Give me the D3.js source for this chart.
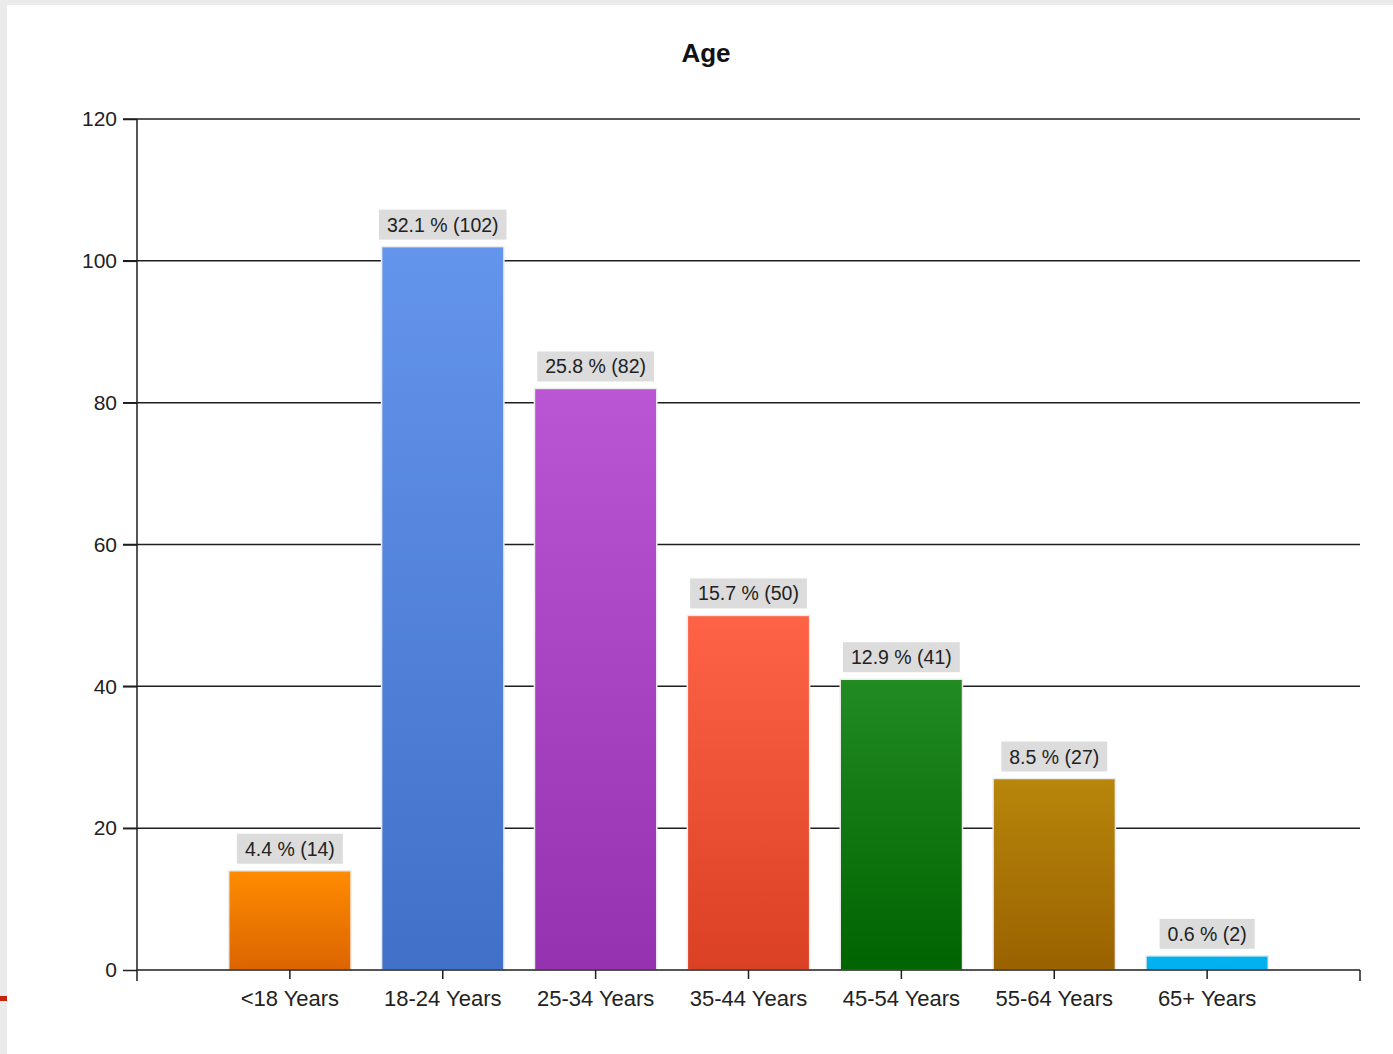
<!DOCTYPE html>
<html>
<head>
<meta charset="utf-8">
<script src="https://cdn.jsdelivr.net/npm/d3@7"></script>
<style>
  html, body { margin: 0; padding: 0; background: #ebebeb; }
  svg { display: block; }
  text { font-family: "Liberation Sans", Arial, sans-serif; }
</style>
</head>
<body>
<script>
const categories = ["<18 Years", "18-24 Years", "25-34 Years", "35-44 Years", "45-54 Years", "55-64 Years", "65+ Years"];
const counts = [14, 102, 82, 50, 41, 27, 2];
const percents = [4.4, 32.1, 25.8, 15.7, 12.9, 8.5, 0.6];
const topColors = ["#ff8c00", "#6495ed", "#ba55d3", "#ff6347", "#228b22", "#b8860b", "#00b4f0"];
const bottomColors = ["#dc6400", "#4070c8", "#9532b0", "#da4024", "#006400", "#9a6200", "#00b0ee"];
const yTicks = [0, 20, 40, 60, 80, 100, 120];
const title = "Age";

const W = 1393, H = 1054;
const svg = d3.select("body").append("svg").attr("width", W).attr("height", H);

// page background
svg.append("rect").attr("x", 0).attr("y", 0).attr("width", W).attr("height", H).attr("fill", "#ebebeb");
svg.append("rect").attr("x", 7).attr("y", 5).attr("width", W - 7).attr("height", H - 5).attr("fill", "#ffffff");
svg.append("rect").attr("x", 0).attr("y", 996).attr("width", 7).attr("height", 5).attr("fill", "#c8240f");

const x = d3.scaleLinear().domain([0, categories.length + 1]).range([137, 1360]);
const y = d3.scaleLinear().domain([0, 120]).range([970, 119]);
const bw = (x(1) - x(0)) * 0.8;

const defs = svg.append("defs");
categories.forEach((c, i) => {
  const g = defs.append("linearGradient").attr("id", "g" + i)
    .attr("x1", 0).attr("y1", 0).attr("x2", 0).attr("y2", 1);
  g.append("stop").attr("offset", "0%").attr("stop-color", topColors[i]);
  g.append("stop").attr("offset", "100%").attr("stop-color", bottomColors[i]);
});

// title
svg.append("text").attr("x", 706).attr("y", 62).attr("text-anchor", "middle")
  .attr("font-size", 26).attr("font-weight", "bold").attr("fill", "#111").text(title);

// gridlines
svg.append("g").selectAll("line").data(yTicks.filter(d => d > 0)).join("line")
  .attr("x1", 123).attr("x2", 1360)
  .attr("y1", d => y(d)).attr("y2", d => y(d))
  .attr("stroke", "#1e1e1e").attr("stroke-width", 1.5);

// y axis
const yAxis = svg.append("g").attr("transform", "translate(137,0)")
  .call(d3.axisLeft(y).tickValues(yTicks).tickSize(14).tickPadding(6));
yAxis.select(".domain").remove();
yAxis.append("line").attr("x1", 0).attr("x2", 0).attr("y1", y(120)).attr("y2", 981)
  .attr("stroke", "#1e1e1e").attr("stroke-width", 1.5);
yAxis.selectAll(".tick line").attr("stroke", "#1e1e1e").attr("stroke-width", 1.5);
yAxis.selectAll(".tick text").attr("font-size", 21).attr("fill", "#222")
  .attr("font-family", "Liberation Sans, Arial, sans-serif");

// bars
const bars = svg.append("g");
bars.selectAll("rect").data(counts).join("rect")
  .attr("x", (d, i) => x(i + 1) - bw / 2)
  .attr("y", d => y(d))
  .attr("width", bw)
  .attr("height", d => y(0) - y(d))
  .attr("fill", (d, i) => `url(#g${i})`)
  .attr("stroke", "#ececec").attr("stroke-width", 1.5);

// x axis
const xAxis = svg.append("g").attr("transform", "translate(0,970)");
xAxis.append("line").attr("x1", 137).attr("x2", 1360).attr("y1", 0).attr("y2", 0)
  .attr("stroke", "#1e1e1e").attr("stroke-width", 1.5);
xAxis.append("line").attr("x1", 1360).attr("x2", 1360).attr("y1", 0).attr("y2", 11)
  .attr("stroke", "#1e1e1e").attr("stroke-width", 1.5);
xAxis.selectAll(".ct").data(categories).join("line").attr("class", "ct")
  .attr("x1", (d, i) => x(i + 1)).attr("x2", (d, i) => x(i + 1))
  .attr("y1", 0).attr("y2", 9)
  .attr("stroke", "#1e1e1e").attr("stroke-width", 1.5);
xAxis.selectAll("text").data(categories).join("text")
  .attr("x", (d, i) => x(i + 1)).attr("y", 36)
  .attr("text-anchor", "middle").attr("font-size", 22).attr("fill", "#222")
  .text(d => d);

// value labels
const labels = svg.append("g");
counts.forEach((d, i) => {
  const cx = x(i + 1);
  const top = y(d);
  const t = labels.append("text")
    .attr("x", cx).attr("y", top - 15)
    .attr("text-anchor", "middle").attr("font-size", 19.5).attr("fill", "#222")
    .text(`${percents[i]} % (${d})`);
  const bb = t.node().getBBox();
  labels.insert("rect", "text")
    .attr("x", cx - bb.width / 2 - 8).attr("y", top - 37)
    .attr("width", bb.width + 16).attr("height", 30)
    .attr("fill", "#dcdcdc");
});
</script>
</body>
</html>
